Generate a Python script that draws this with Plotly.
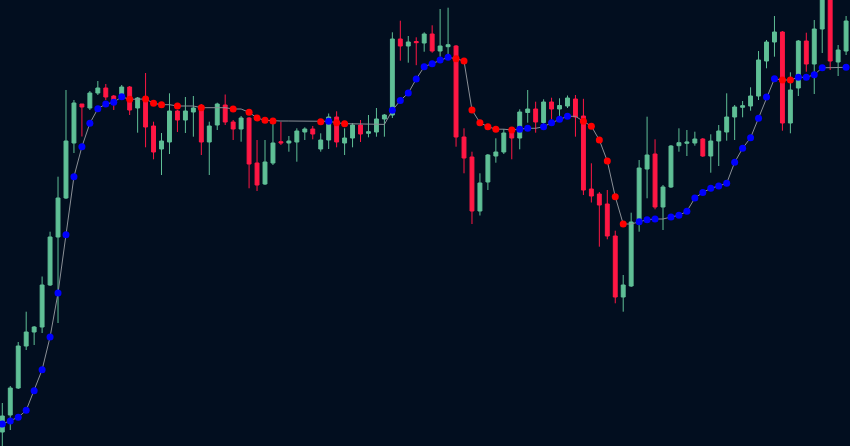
import plotly.graph_objects as go

# Candle OHLC values (price units)
open_ = [14, 31, 58, 100, 114, 119, 161, 209, 248, 303, 342, 338, 353, 358, 350, 349, 359, 338, 349, 320,
         297, 304, 335, 326, 334, 340, 304, 321, 341, 324, 317, 328, 283, 262, 283, 304.3, 303, 304, 314, 317,
         297, 306, 329, 303, 308, 321, 312.7, 314, 327, 331, 407, 400, 404.5, 403, 412, 395, 399.3, 400, 309, 289,
         235, 264, 290, 294, 313, 308, 333.5, 337, 323.5, 344, 337, 340, 347, 330, 257, 252, 242, 210, 149, 160,
         224, 277, 292, 239, 259, 300.3, 302.7, 303, 307, 290, 305, 314, 329, 338.7, 340, 350, 385, 404, 414, 323,
         358, 405, 382, 417, 456, 384, 395]
high = [43, 60, 104, 134.3, 120, 169.5, 214.3, 269.3, 356, 346, 342, 355, 365, 362, 351, 361, 360, 349, 373, 324.3,
        313, 352.7, 336, 349, 350, 342, 324.3, 343.3, 351.5, 326, 330, 329, 306, 306, 323.5, 324.3, 310, 317.7, 318.7, 320,
        312.7, 332.5, 334.7, 317.7, 323, 326, 331, 338, 332, 413.7, 425.3, 410, 408.7, 413.7, 420.7, 437, 438.3, 401, 317.7, 294.3,
        272.7, 292, 307.7, 317, 315, 336.7, 356, 344.3, 346.7, 348.3, 347.7, 350.5, 351, 347.2, 282.7, 254, 256, 215.3, 171, 233.3,
        286, 329.3, 306.7, 261, 301, 317.7, 316, 314.3, 308, 311.7, 321, 352.7, 341, 345, 358.7, 395, 406, 430, 415, 373.7,
        406, 413.3, 426, 471, 466, 401, 430]
low = [-4, 16, 57, 96, 101, 113, 160, 123, 247, 293, 309.5, 336, 351, 346, 336, 348, 331, 313.3, 298.7, 286.7,
       271, 292, 314, 313, 309.3, 291, 271, 316, 321, 306, 304.3, 257.7, 255, 261, 281, 301, 294.3, 284.3, 306, 306.7,
       294.3, 297, 298.7, 291, 298.7, 304, 308.7, 309.3, 309.3, 328, 385.3, 383.3, 380.8, 394.3, 393.3, 389.3, 388.2, 299.3, 272.7, 222,
       230.5, 256, 283.3, 292, 286.7, 296.7, 323.3, 313.3, 321, 326.5, 327.5, 338, 309.3, 251, 243.5, 199.3, 206.7, 142.7, 134.3, 159,
       214.3, 247.7, 236.7, 216, 258, 294.3, 290, 300.3, 289, 273.3, 280, 305.3, 306, 328.7, 335.3, 346, 377.7, 389.3, 315.3, 312.7,
       350, 374.3, 352, 393, 376, 370, 391]
close = [30, 58, 100, 114, 119, 161, 209, 248, 305, 343, 339, 353, 358, 349, 346, 359, 336, 348, 319, 294,
         305, 335, 326, 335, 338, 304, 320, 342, 324, 317, 328, 282, 261, 284, 303, 303, 305, 315, 317, 312,
         306, 329, 304, 308, 321, 312, 314.3, 327, 331, 407, 400, 404, 403.3, 412, 395, 400, 401.3, 309, 288, 235,
         263, 291, 294, 313, 308, 334, 337, 324, 344, 337, 340.5, 348, 329, 256, 250, 241, 210, 149, 161, 224,
         278, 291, 239, 259, 300, 303.3, 304, 307, 290, 305, 315, 329, 339, 340.3, 350, 386, 404, 414, 323, 356,
         405, 382, 417, 461, 385, 396, 425]

# Trend line value at every candle, and whether a dot is drawn there
trend = [22, 25, 28.7, 35.7, 55.3, 76.3, 109, 153, 211.3, 269.3, 299.3, 322.7, 337.3, 342, 343.7, 349.2, 346.7, 346.7, 347, 342.7,
         341.3, 341.3, 340, 340, 340, 338.3, 338.3, 338.3, 338.3, 337, 337, 333.7, 328, 325.7, 325, 325, 325, 325, 325, 325,
         324.3, 324.7, 323.3, 322.3, 322.2, 322.1, 322, 321.8, 321.6, 335.7, 345.5, 353, 367, 379.3, 382.3, 386, 388.7, 387.3, 385, 336,
         323.3, 319.3, 316.8, 316.8, 316, 316.8, 317.7, 317.7, 319.3, 323.3, 326.7, 329.7, 329.7, 324.7, 319.8, 306, 285, 249.3, 222, 222,
         224.3, 226.3, 227, 227, 229, 230.7, 234.7, 248, 253.5, 257.7, 260, 262.8, 283.7, 297.7, 308.3, 327.7, 349, 367.3, 366, 366,
         368.7, 368.7, 371.3, 378.3, 378.3, 378.5, 378.7]
dot = [1, 1, 1, 1, 1, 1, 1, 1, 1, 1, 1, 1, 1, 1, 1, 1, 1, 0, 1, 1,
       1, 0, 1, 0, 0, 1, 0, 0, 0, 1, 0, 1, 1, 1, 1, 0, 0, 0, 0, 0,
       1, 1, 1, 1, 0, 0, 0, 0, 0, 1, 1, 1, 1, 1, 1, 1, 1, 1, 1, 1,
       1, 1, 1, 0, 1, 1, 1, 0, 1, 1, 1, 1, 0, 1, 1, 1, 1, 1, 1, 0,
       1, 1, 1, 0, 1, 1, 1, 1, 1, 1, 1, 1, 1, 1, 1, 1, 1, 1, 1, 1,
       1, 1, 1, 1, 0, 0, 1]

x = list(range(len(close)))

BG = "#020e1f"
UP = "#5fbf96"
DOWN = "#ff1744"

fig = go.Figure()
fig.add_trace(go.Candlestick(
    x=x, open=open_, high=high, low=low, close=close,
    increasing=dict(line=dict(color=UP, width=1), fillcolor=UP),
    decreasing=dict(line=dict(color=DOWN, width=1), fillcolor=DOWN),
    whiskerwidth=0, hoverinfo="skip", showlegend=False,
))
fig.add_trace(go.Scatter(
    x=x, y=trend, mode="lines",
    line=dict(color="#8a8f96", width=1), hoverinfo="skip", showlegend=False,
))
dx = [xi for xi, d in zip(x, dot) if d]
dy = [t for t, d in zip(trend, dot) if d]
dc = ["#0000ff" if close[xi] > trend[xi] else "#ff0000" for xi in dx]
fig.add_trace(go.Scatter(
    x=dx, y=dy, mode="markers",
    marker=dict(color=dc, size=7, line=dict(width=0)),
    hoverinfo="skip", showlegend=False,
))

fig.update_layout(
    width=850, height=446,
    margin=dict(l=0, r=0, t=0, b=0),
    paper_bgcolor=BG, plot_bgcolor=BG,
    showlegend=False,
    xaxis=dict(visible=False, range=[-0.29, 106.49], rangeslider=dict(visible=False)),
    yaxis=dict(visible=False, range=[0, 446]),
)
fig.write_html("out.html", config={"displayModeBar": False})

with open("out.html", "r", encoding="utf-8") as f:
    html = f.read()
html = html.replace("<head>", "<head><style>html,body{margin:0;padding:0;overflow:hidden;background:%s;}</style>" % BG, 1)
with open("out.html", "w", encoding="utf-8") as f:
    f.write(html)
